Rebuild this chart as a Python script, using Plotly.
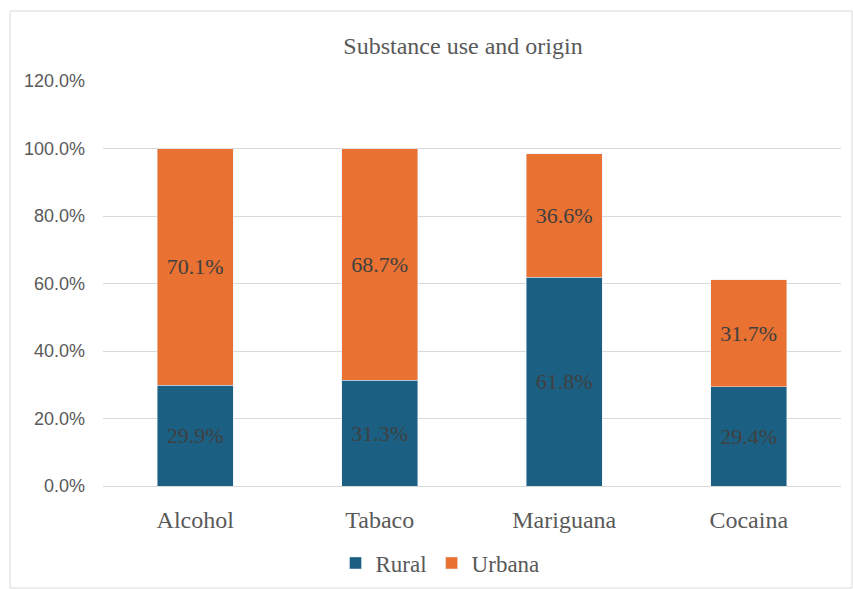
import plotly.graph_objects as go

categories = ["Alcohol", "Tabaco", "Mariguana", "Cocaina"]
rural = [29.9, 31.3, 61.8, 29.4]
urbana = [70.1, 68.7, 36.6, 31.7]
tick_vals = [0, 20, 40, 60, 80, 100, 120]
tick_text = ["0.0%", "20.0%", "40.0%", "60.0%", "80.0%", "100.0%", "120.0%"]

serif = "Liberation Serif, Times New Roman, serif"
sans = "Liberation Sans, Arial, sans-serif"

fig = go.Figure()
fig.add_bar(x=categories, y=rural, name="Rural", marker_color="#1B5F82",
            text=[f"{v:.1f}%" for v in rural], textposition="inside",
            insidetextanchor="middle", textangle=0,
            textfont=dict(family=serif, size=22, color="#404040"))
fig.add_bar(x=categories, y=urbana, name="Urbana", marker_color="#E97132",
            text=[f"{v:.1f}%" for v in urbana], textposition="inside",
            insidetextanchor="middle", textangle=0,
            textfont=dict(family=serif, size=22, color="#404040"))

fig.update_layout(
    barmode="stack",
    bargap=0.59,
    width=853, height=589,
    margin=dict(l=103, r=12, t=81, b=103),
    paper_bgcolor="white", plot_bgcolor="white",
    title=dict(text="Substance use and origin", x=463 / 853, xanchor="center",
               y=1 - 46 / 589, yanchor="middle",
               font=dict(family=serif, size=24, color="#595959")),
    xaxis=dict(tickfont=dict(family=serif, size=24, color="#595959"),
               showline=True, linecolor="#d9d9d9", linewidth=1,
               ticks="", ticklabelstandoff=12, automargin=False),
    yaxis=dict(range=[0, 120], tickvals=tick_vals, ticktext=tick_text,
               showgrid=True, gridcolor="#d9d9d9", gridwidth=1,
               zeroline=False, ticks="", ticklabelstandoff=17,
               automargin=False,
               tickfont=dict(family=sans, size=18, color="#595959")),
    legend=dict(orientation="h", xref="container", x=440 / 853, xanchor="center",
                yref="container", y=1 - 563 / 589, yanchor="middle",
                font=dict(family=serif, size=23, color="#595959"),
                itemwidth=30, traceorder="normal"),
    shapes=[dict(type="rect", xref="paper", yref="paper",
                 x0=(10 - 103) / (841 - 103), x1=(852 - 103) / (841 - 103),
                 y0=(486 - 588) / (486 - 81), y1=(486 - 11) / (486 - 81),
                 line=dict(color="#d9d9d9", width=1), layer="below")],
)

fig.write_html("out.html")
